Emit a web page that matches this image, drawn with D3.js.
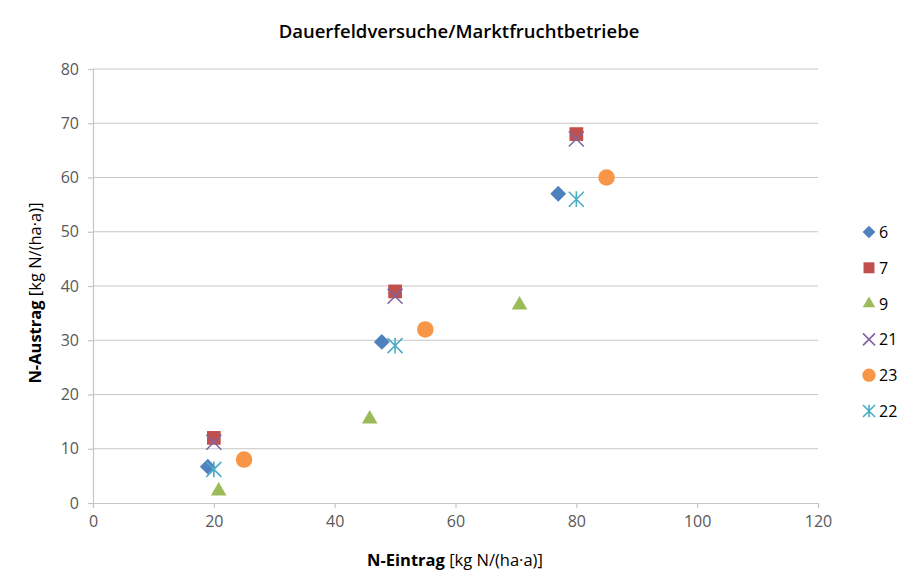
<!DOCTYPE html>
<html>
<head>
<meta charset="utf-8">
<script src="https://cdn.jsdelivr.net/npm/d3@7"></script>
<style>
  html, body { margin: 0; padding: 0; background: #fff; }
  svg { display: block; font-family: "Open Sans", "Noto Sans", sans-serif; }
</style>
</head>
<body>
<svg id="chart" width="897" height="581"></svg>
<script>
// Series names and their [N-Eintrag, N-Austrag] pairs
const seriesNames = ["6", "7", "9", "21", "23", "22"];
const seriesShapes = ["diamond", "square", "triangle", "cross", "circle", "star"];
const seriesColors = ["#4F81BD", "#C0504D", "#9BBB59", "#8064A2", "#F79646", "#4BACC6"];
const s6  = [[19.0, 6.7], [47.8, 29.7], [77.0, 57.0]];
const s7  = [[20, 12], [50, 39], [80, 68]];
const s9  = [[20.8, 2.2], [45.8, 15.5], [70.6, 36.5]];
const s21 = [[20, 11.2], [50, 38.1], [80, 67.1]];
const s23 = [[25, 8], [55, 32], [85, 60]];
const s22 = [[20, 6.2], [50, 29], [80, 56]];
const seriesValues = [s6, s7, s9, s21, s23, s22];
const xTicks = [0, 20, 40, 60, 80, 100, 120];
const yTicks = [0, 10, 20, 30, 40, 50, 60, 70, 80];

const svg = d3.select("#chart");
const plotLeft = 93, plotRight = 818, plotTop = 69, plotBottom = 503;

const x = d3.scaleLinear().domain([0, 120]).range([plotLeft, plotRight]);
const y = d3.scaleLinear().domain([0, 80]).range([plotBottom, plotTop]);

// Title
svg.append("text")
  .attr("x", 459).attr("y", 38)
  .attr("text-anchor", "middle")
  .attr("font-size", 18.5).attr("font-weight", 600)
  .attr("fill", "#000")
  .text("Dauerfeldversuche/Marktfruchtbetriebe");

// Horizontal gridlines
svg.append("g").selectAll("line").data(yTicks.slice(1)).join("line")
  .attr("x1", plotLeft).attr("x2", plotRight)
  .attr("y1", d => y(d)).attr("y2", d => y(d))
  .attr("stroke", "#c6c6c6").attr("stroke-width", 1.2);

// Y axis
const yAxis = svg.append("g").attr("transform", `translate(${plotLeft},0)`)
  .call(d3.axisLeft(y).tickValues(yTicks).tickSize(5).tickPadding(9));
yAxis.select(".domain").attr("stroke", "#c6c6c6").attr("stroke-width", 1.2);
yAxis.selectAll(".tick line").attr("stroke", "#c6c6c6").attr("stroke-width", 1.2);
yAxis.selectAll(".tick text").attr("font-size", 16).attr("fill", "#595959")
  .attr("font-family", "Open Sans, sans-serif");

// X axis
const xAxis = svg.append("g").attr("transform", `translate(0,${plotBottom})`)
  .call(d3.axisBottom(x).tickValues(xTicks).tickSize(5).tickPadding(8));
xAxis.select(".domain").attr("stroke", "#c6c6c6").attr("stroke-width", 1.2);
xAxis.selectAll(".tick line").attr("stroke", "#c6c6c6").attr("stroke-width", 1.2);
xAxis.selectAll(".tick text").attr("font-size", 16).attr("fill", "#595959")
  .attr("font-family", "Open Sans, sans-serif");

// Axis titles
const xt = svg.append("text").attr("x", 455).attr("y", 566)
  .attr("text-anchor", "middle").attr("font-size", 16.5).attr("fill", "#000");
xt.append("tspan").attr("font-weight", 700).text("N-Eintrag ");
xt.append("tspan").text("[kg N/(ha·a)]");

const yt = svg.append("text")
  .attr("transform", "translate(41,293) rotate(-90)")
  .attr("text-anchor", "middle").attr("font-size", 16.5).attr("fill", "#000");
yt.append("tspan").attr("font-weight", 700).text("N-Austrag ");
yt.append("tspan").text("[kg N/(ha·a)]");

// Marker drawing
function drawMarker(g, shape, color, size) {
  if (shape === "cross") {
    const h = size * 0.5;
    g.append("path").attr("d", `M${-h},${-h}L${h},${h}M${-h},${h}L${h},${-h}`)
      .attr("stroke", color).attr("stroke-width", 1.6).attr("fill", "none");
  } else if (shape === "star") {
    const h = size * 0.5;
    g.append("path")
      .attr("d", `M${-h},${-h}L${h},${h}M${-h},${h}L${h},${-h}M0,${-h * 1.05}L0,${h * 1.05}`)
      .attr("stroke", color).attr("stroke-width", 1.6).attr("fill", "none");
  } else {
    const type = { diamond: d3.symbolDiamond2, square: d3.symbolSquare2, triangle: d3.symbolTriangle2, circle: d3.symbolCircle }[shape];
    const area = { diamond: 160, square: 240, triangle: 175, circle: 215 }[shape];
    g.append("path").attr("d", d3.symbol(type, area * (size / 15) * (size / 15))())
      .attr("fill", color);
  }
}

// Data points
seriesValues.forEach((vals, i) => {
  const g = svg.append("g");
  vals.forEach(([vx, vy]) => {
    const m = g.append("g").attr("transform", `translate(${x(vx)},${y(vy)})`);
    drawMarker(m, seriesShapes[i], seriesColors[i], 15);
  });
});

// Legend
const legendY = d3.scalePoint().domain(seriesNames).range([232, 411]);
seriesNames.forEach((name, i) => {
  const yy = legendY(name);
  const m = svg.append("g").attr("transform", `translate(869,${yy})`);
  drawMarker(m, seriesShapes[i], seriesColors[i], 12);
  svg.append("text").attr("x", 879).attr("y", yy + 6)
    .attr("font-size", 16).attr("fill", "#000").text(name);
});
</script>
</body>
</html>
